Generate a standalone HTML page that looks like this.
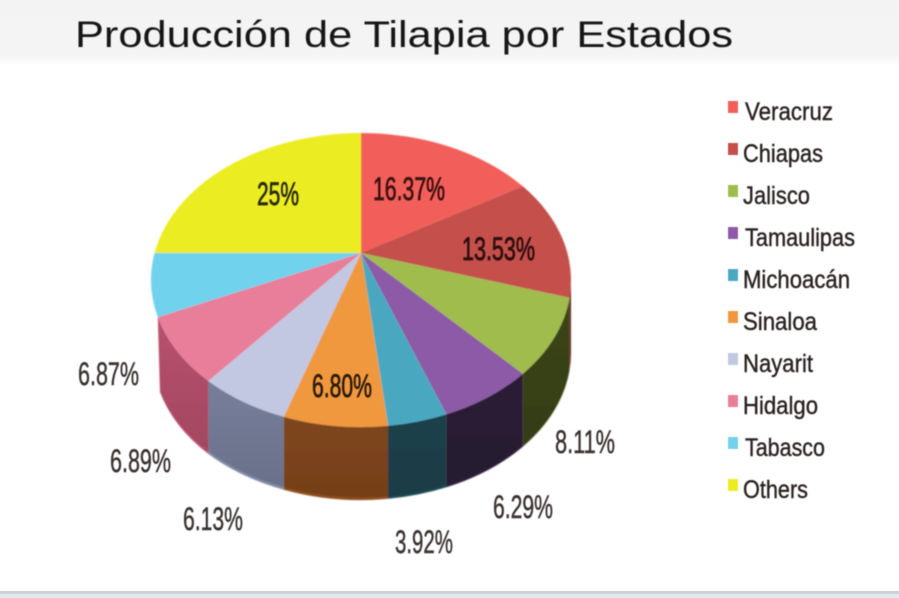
<!DOCTYPE html>
<html>
<head>
<meta charset="utf-8">
<style>
html,body{margin:0;padding:0;background:#fff;}
body{width:899px;height:598px;overflow:hidden;}
svg{display:block;}
text{font-family:"Liberation Sans",sans-serif;}
</style>
</head>
<body>
<svg width="899" height="598" viewBox="0 0 899 598" xmlns="http://www.w3.org/2000/svg">
<defs>
<linearGradient id="bgtop" x1="0" y1="0" x2="0" y2="1">
<stop offset="0" stop-color="#f3f3f3"/>
<stop offset="0.82" stop-color="#f4f4f4"/>
<stop offset="1" stop-color="#ffffff"/>
</linearGradient>
<linearGradient id="shade" x1="0" y1="0" x2="0" y2="1">
<stop offset="0" stop-color="#000" stop-opacity="0"/>
<stop offset="1" stop-color="#000" stop-opacity="0.18"/>
</linearGradient>
<filter id="soft" x="-5%" y="-5%" width="110%" height="110%"><feGaussianBlur stdDeviation="0.7"/></filter>
<filter id="softt" x="-5%" y="-5%" width="110%" height="110%"><feGaussianBlur stdDeviation="0.45"/></filter>
</defs>
<rect x="0" y="0" width="899" height="598" fill="#ffffff"/>
<rect x="0" y="0" width="899" height="66" fill="url(#bgtop)"/>
<rect x="0" y="591" width="899" height="3" fill="#cdd1d9"/>
<rect x="0" y="594" width="899" height="4" fill="#e3e8ef"/>

<text x="75" y="47" font-size="37.5" fill="#121212" textLength="658" lengthAdjust="spacingAndGlyphs" filter="url(#softt)">Producción de Tilapia por Estados</text>

<g filter="url(#soft)">
<!-- sides -->
<path d="M571,280 A210,147 0 0 1 569.4,297.9 L569.4,370.9 A210,147 0 0 0 571,353 Z" fill="#6a2624"/>
<path d="M569.4,297.9 A210,147 0 0 1 522.8,373.7 L522.8,446.7 A210,147 0 0 0 569.4,370.9 Z" fill="#3c4518"/>
<path d="M522.8,373.7 A210,147 0 0 1 446.4,414.3 L446.4,487.3 A210,147 0 0 0 522.8,446.7 Z" fill="#2e1f3a"/>
<path d="M446.4,414.3 A210,147 0 0 1 388,425.8 L388,498.8 A210,147 0 0 0 446.4,487.3 Z" fill="#1f4852"/>
<path d="M388,425.8 A210,147 0 0 1 283.7,416.7 L283.7,489.7 A210,147 0 0 0 388,498.8 Z" fill="#8e4e1e"/>
<path d="M283.7,416.7 A210,147 0 0 1 208.4,381 L208.4,454 A210,147 0 0 0 283.7,489.7 Z" fill="#8088a6"/>
<path d="M208.4,381 A210,147 0 0 1 157.8,317.1 L160,392 A210,147 0 0 0 208.4,454 Z" fill="#bc5270"/>
<path d="M569.4,297.9 A210,147 0 0 1 157.8,317.1 L160,392 A210,147 0 0 0 569.4,370.9 Z" fill="url(#shade)"/>
<!-- top -->
<path d="M361,253 L361,133 A210,147 0 0 1 522.8,186.3 Z" fill="#f25e5a"/>
<path d="M361,253 L522.8,186.3 A210,147 0 0 1 569.4,297.9 Z" fill="#c4504c"/>
<path d="M361,253 L569.4,297.9 A210,147 0 0 1 522.8,373.7 Z" fill="#a0bc4e"/>
<path d="M361,253 L522.8,373.7 A210,147 0 0 1 446.4,414.3 Z" fill="#8c5aa6"/>
<path d="M361,253 L446.4,414.3 A210,147 0 0 1 388,425.8 Z" fill="#4aa8c0"/>
<path d="M361,253 L388,425.8 A210,147 0 0 1 283.7,416.7 Z" fill="#f0983e"/>
<path d="M361,253 L283.7,416.7 A210,147 0 0 1 208.4,381 Z" fill="#c2c8e2"/>
<path d="M361,253 L208.4,381 A210,147 0 0 1 157.8,317.1 Z" fill="#e87e9a"/>
<path d="M361,253 L157.8,317.1 A210,147 0 0 1 154.6,253 Z" fill="#70d2ec"/>
<path d="M361,253 L154.6,253 A210,147 0 0 1 361,133 Z" fill="#ecec22"/>
</g>

<g filter="url(#softt)" font-size="32" stroke-width="0.7">
<text x="373" y="200" fill="#3a1212" stroke="#3a1212" textLength="72" lengthAdjust="spacingAndGlyphs">16.37%</text>
<text x="462" y="260" fill="#2a1010" stroke="#2a1010" textLength="73" lengthAdjust="spacingAndGlyphs">13.53%</text>
<text x="257" y="205" fill="#2a2a10" stroke="#2a2a10" textLength="42" lengthAdjust="spacingAndGlyphs">25%</text>
<text x="312" y="397" fill="#2a1a10" stroke="#2a1a10" textLength="60" lengthAdjust="spacingAndGlyphs">6.80%</text>
</g>
<g filter="url(#softt)" font-size="32" fill="#3a3232" stroke="#3a3232" stroke-width="0.45">
<text x="555" y="453" textLength="60" lengthAdjust="spacingAndGlyphs">8.11%</text>
<text x="493" y="518" textLength="60" lengthAdjust="spacingAndGlyphs">6.29%</text>
<text x="78" y="385" textLength="61" lengthAdjust="spacingAndGlyphs">6.87%</text>
<text x="110" y="472" textLength="61" lengthAdjust="spacingAndGlyphs">6.89%</text>
<text x="183" y="530" textLength="60" lengthAdjust="spacingAndGlyphs">6.13%</text>
<text x="395" y="553" textLength="58" lengthAdjust="spacingAndGlyphs">3.92%</text>
</g>

<g filter="url(#softt)">
<rect x="728" y="101" width="10" height="12" fill="#f25e5a"/>
<rect x="728" y="143" width="10" height="12" fill="#c4504c"/>
<rect x="728" y="185" width="10" height="12" fill="#a0bc4e"/>
<rect x="728" y="227" width="10" height="12" fill="#8c5aa6"/>
<rect x="728" y="269" width="10" height="12" fill="#4aa8c0"/>
<rect x="728" y="311" width="10" height="12" fill="#f0983e"/>
<rect x="728" y="353" width="10" height="12" fill="#c2c8e2"/>
<rect x="728" y="395" width="10" height="12" fill="#e87e9a"/>
<rect x="728" y="437" width="10" height="12" fill="#70d2ec"/>
<rect x="728" y="479" width="10" height="12" fill="#ecec22"/>
</g>
<g filter="url(#softt)" font-size="25" fill="#2a2222" stroke="#2a2222" stroke-width="0.4">
<text x="745" y="120" textLength="88" lengthAdjust="spacingAndGlyphs">Veracruz</text>
<text x="743" y="162" textLength="80" lengthAdjust="spacingAndGlyphs">Chiapas</text>
<text x="743" y="204" textLength="67" lengthAdjust="spacingAndGlyphs">Jalisco</text>
<text x="745" y="246" textLength="110" lengthAdjust="spacingAndGlyphs">Tamaulipas</text>
<text x="743" y="288" textLength="107" lengthAdjust="spacingAndGlyphs">Michoacán</text>
<text x="743" y="330" textLength="74" lengthAdjust="spacingAndGlyphs">Sinaloa</text>
<text x="743" y="372" textLength="70" lengthAdjust="spacingAndGlyphs">Nayarit</text>
<text x="743" y="414" textLength="75" lengthAdjust="spacingAndGlyphs">Hidalgo</text>
<text x="745" y="456" textLength="80" lengthAdjust="spacingAndGlyphs">Tabasco</text>
<text x="743" y="498" textLength="65" lengthAdjust="spacingAndGlyphs">Others</text>
</g>
</svg>
</body>
</html>
